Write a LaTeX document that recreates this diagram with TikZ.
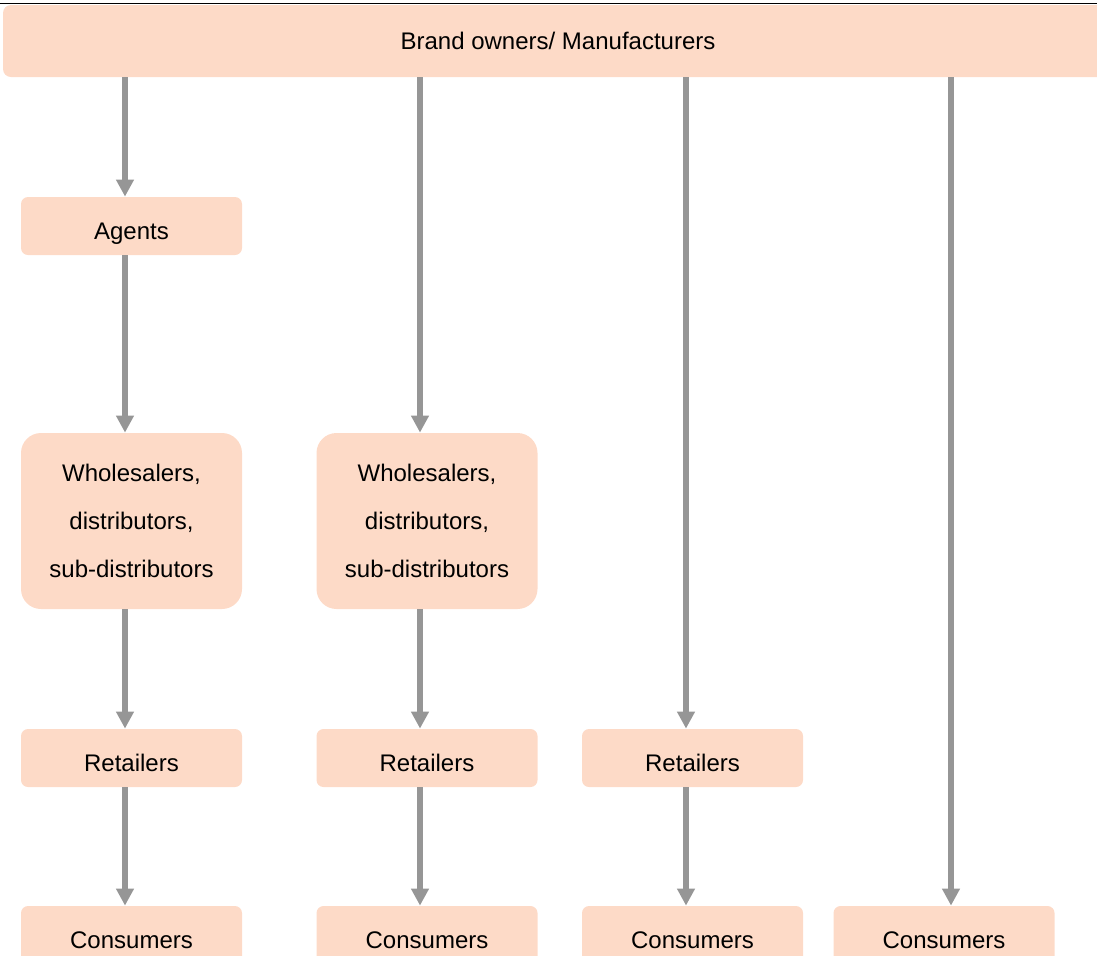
\documentclass[tikz,border=0pt]{standalone}
\usepackage{fontspec}
\setmainfont{Liberation Sans}
\usetikzlibrary{arrows.meta}
\definecolor{peach}{RGB}{253, 218, 199}
\definecolor{flowgrey}{RGB}{150, 150, 150}

\begin{document}
\begin{tikzpicture}[x=0.5pt, y=-0.5pt,
  every node/.style={font=\fontsize{12}{24}\selectfont},
  box/.style={fill=peach, rounded corners=3.5pt, inner sep=0pt,
    minimum width=110.5pt, minimum height=29pt,
    text height=13.5pt, text depth=0pt},
  bigbox/.style={fill=peach, rounded corners=10pt, inner sep=0pt,
    minimum width=110.5pt, minimum height=88pt, align=center},
  flow/.style={draw=flowgrey, line width=3pt,
    -{Triangle[width=8.5pt, length=8.5pt]}}]

  \useasboundingbox (0, 0) rectangle (1097, 955);
  \clip (0, 0) rectangle (1097, 955);

  \draw[line width=0.75pt] (0, 3.5) -- (1097, 3.5);

  \node[box, rounded corners=4pt, minimum width=555pt, minimum height=36pt,
    text height=8pt] (bar) at (558, 41) {Brand owners/ Manufacturers};

  % columns of the arrows
  \coordinate (c1) at (125, 0);
  \coordinate (c2) at (420, 0);
  \coordinate (c3) at (686, 0);
  \coordinate (c4) at (951, 0);

  \node[box] (agents) at (131.5, 226) {Agents};

  \node[bigbox] (whole1) at (131.5, 521)
    {Wholesalers,\\ distributors,\\ sub-distributors};
  \node[bigbox] (whole2) at (427, 521)
    {Wholesalers,\\ distributors,\\ sub-distributors};

  \node[box] (ret1) at (131.5, 758) {Retailers};
  \node[box] (ret2) at (427, 758) {Retailers};
  \node[box] (ret3) at (692.5, 758) {Retailers};

  \node[box] (cons1) at (131.5, 935) {Consumers};
  \node[box] (cons2) at (427, 935) {Consumers};
  \node[box] (cons3) at (692.5, 935) {Consumers};
  \node[box] (cons4) at (944, 935) {Consumers};

  \draw[flow] (bar.south -| c1) -- (agents.north -| c1);
  \draw[flow] (agents.south -| c1) -- (whole1.north -| c1);
  \draw[flow] (whole1.south -| c1) -- (ret1.north -| c1);
  \draw[flow] (ret1.south -| c1) -- (cons1.north -| c1);

  \draw[flow] (bar.south -| c2) -- (whole2.north -| c2);
  \draw[flow] (whole2.south -| c2) -- (ret2.north -| c2);
  \draw[flow] (ret2.south -| c2) -- (cons2.north -| c2);

  \draw[flow] (bar.south -| c3) -- (ret3.north -| c3);
  \draw[flow] (ret3.south -| c3) -- (cons3.north -| c3);

  \draw[flow] (bar.south -| c4) -- (cons4.north -| c4);

\end{tikzpicture}
\end{document}
